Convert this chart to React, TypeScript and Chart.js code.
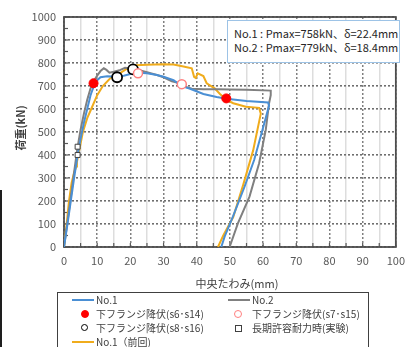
import React, { useEffect, useRef } from "react";
import { Chart, registerables } from "chart.js";
Chart.register(...registerables);

// No.1 (blue)
const no1X = [0, 1, 2, 3, 4, 5, 6, 7, 8, 9, 10, 11, 13, 16, 18, 20, 22.4, 25, 28, 30, 33, 35, 36, 38, 42, 46, 49, 55, 61.5, 61.8, 59.8, 57.3, 54.4, 50.9, 48.4, 47.4];
const no1Y = [0, 95, 195, 295, 390, 470, 540, 600, 660, 700, 725, 738, 742, 740, 745, 752, 758, 755, 748, 740, 725, 705, 697, 688, 665, 652, 645, 635, 628, 615, 509, 378, 262, 132, 45, 0];
// No.2 (gray)
const no2X = [0, 1, 2, 3, 4, 5, 6, 7, 8, 9, 10, 11, 12, 12.8, 13.7, 15, 17, 18.4, 21, 23, 25, 28, 30, 32.5, 35, 37, 38.5, 42, 46.4, 50, 55, 62.3, 62.3, 61.8, 60.8, 58.8, 55.9, 52.4, 49.9];
const no2Y = [0, 105, 210, 320, 425, 510, 580, 640, 690, 722, 745, 765, 777, 770, 758, 762, 770, 779, 775, 768, 760, 748, 738, 720, 712, 695, 688, 686, 686, 685, 684, 680, 660, 625, 509, 364, 219, 103, 0];
// No.1 前回 (orange)
const prevX = [0, 0.4, 0.8, 1.5, 2.3, 3.0, 3.7, 3.9, 4.3, 5, 5.7, 7, 8.2, 10, 11.7, 14, 16.2, 19, 21.6, 25, 30, 33, 36, 38.5, 39.2, 39.7, 40.3, 42, 43, 45.4, 47, 49, 51, 54.8, 58.8, 59.3, 57, 54, 51, 48, 46.4];
const prevY = [0, 50, 100, 200, 280, 320, 350, 370, 400, 450, 500, 560, 600, 660, 700, 735, 750, 775, 790, 792, 795, 793, 785, 777, 740, 735, 755, 743, 712, 690, 665, 640, 625, 610, 605, 580, 420, 270, 130, 50, 0];

// markers
const redX = [8.9, 48.9];
const redY = [712, 646];
const pinkX = [22.3, 35.5];
const pinkY = [755, 708];
const blackX = [16, 20.8];
const blackY = [738, 772];
const sqX = [4.1, 4.1];
const sqY = [400, 436];

const xTicksMax = 100;
const yTicksMax = 1000;

const CJK = '"Noto Sans CJK JP", "Noto Sans", sans-serif';

function pts(xs: number[], ys: number[]) {
  return xs.map((x, i) => ({ x, y: ys[i] }));
}

const isMajorX = (c: any) => !!c.tick && Math.round(c.tick.value) % 10 === 0;

const framePlugin = {
  id: "frame",
  beforeDatasetsDraw(chart: any) {
    const ctx = chart.ctx;
    const ca = chart.chartArea;
    const xs = chart.scales.x;
    const ys = chart.scales.y;
    ctx.save();
    ctx.strokeStyle = "#595959";
    ctx.lineWidth = 1.2;
    for (let v = 0; v <= yTicksMax; v += 50) {
      const py = ys.getPixelForValue(v);
      ctx.beginPath(); ctx.moveTo(ca.left, py); ctx.lineTo(ca.left + 4, py); ctx.stroke();
    }
    for (let v = 0; v <= xTicksMax; v += 5) {
      const px = xs.getPixelForValue(v);
      ctx.beginPath(); ctx.moveTo(px, ca.bottom); ctx.lineTo(px, ca.bottom - 4); ctx.stroke();
    }
    ctx.lineWidth = 1.8;
    ctx.strokeStyle = "#4d4d4d";
    ctx.strokeRect(ca.left, ca.top, ca.right - ca.left, ca.bottom - ca.top);
    ctx.restore();
  },
};

export default function App() {
  const ref = useRef<HTMLCanvasElement>(null);
  useEffect(() => {
    const chart = new Chart(ref.current as HTMLCanvasElement, {
      type: "scatter",
      data: {
        datasets: [
          { label: "red", data: pts(redX, redY), showLine: false, pointRadius: 4.5, pointBackgroundColor: "#ff0000", pointBorderColor: "#ff0000", pointBorderWidth: 1 },
          { label: "pink", data: pts(pinkX, pinkY), showLine: false, pointRadius: 4.5, pointBackgroundColor: "#ffffff", pointBorderColor: "#ff8080", pointBorderWidth: 1.5 },
          { label: "black", data: pts(blackX, blackY), showLine: false, pointRadius: 5, pointBackgroundColor: "#ffffff", pointBorderColor: "#000000", pointBorderWidth: 1.8 },
          { label: "sq", data: pts(sqX, sqY), showLine: false, pointStyle: "rect", pointRadius: 3.5, pointBackgroundColor: "#ffffff", pointBorderColor: "#404040", pointBorderWidth: 1 },
          { label: "No.1", data: pts(no1X, no1Y), showLine: true, pointRadius: 0, borderColor: "#4a8fd4", borderWidth: 2, tension: 0 },
          { label: "No.2", data: pts(no2X, no2Y), showLine: true, pointRadius: 0, borderColor: "#808080", borderWidth: 2, tension: 0 },
          { label: "No.1（前回)", data: pts(prevX, prevY), showLine: true, pointRadius: 0, borderColor: "#f0ac1c", borderWidth: 2, tension: 0 },
        ],
      },
      options: {
        animation: false,
        responsive: false,
        maintainAspectRatio: false,
        events: [],
        layout: { padding: { top: 17, right: 12, left: 0, bottom: 0 } },
        plugins: { legend: { display: false }, tooltip: { enabled: false } },
        scales: {
          x: {
            type: "linear",
            min: 0,
            max: xTicksMax,
            afterFit: (s: any) => { s.height = 100; },
            ticks: {
              stepSize: 5,
              autoSkip: false,
              maxRotation: 0,
              padding: 7,
              color: "#595959",
              font: { size: 11, family: CJK },
              callback: (v: any) => (Math.round(Number(v)) % 10 === 0 ? String(v) : ""),
            },
            grid: {
              display: true,
              drawTicks: false,
              color: (c: any) => (isMajorX(c) ? "#808080" : "#dddddd"),
              lineWidth: 1.5,
            },
            border: {
              display: false,
              dash: (c: any) => (isMajorX(c) ? [2, 2] : []),
            },
          },
          y: {
            type: "linear",
            min: 0,
            max: yTicksMax,
            afterFit: (s: any) => { s.width = 64; },
            ticks: {
              stepSize: 100,
              padding: 8,
              color: "#595959",
              font: { size: 11, family: CJK },
              callback: (v: any) => String(v),
            },
            grid: { display: true, drawTicks: false, color: "#6e6e6e", lineWidth: 1.6 },
            border: { display: false, dash: [2, 2] },
          },
        },
      },
      plugins: [framePlugin],
    } as any);
    return () => chart.destroy();
  }, []);

  const txt: React.CSSProperties = { position: "absolute", fontFamily: CJK, fontSize: 11, color: "#404040", whiteSpace: "nowrap", lineHeight: "14px" };
  const leg: React.CSSProperties = { ...txt, fontSize: 10 };
  const lineSym = (left: number, top: number, color: string): React.CSSProperties => ({ position: "absolute", left, top, width: 22, height: 2, background: color });
  const circ = (cx: number, cy: number, r: number, bg: string, bc: string, bw: number): React.CSSProperties => ({
    position: "absolute", left: cx - r, top: cy - r, width: 2 * r - 2 * bw, height: 2 * r - 2 * bw, borderRadius: "50%", background: bg, border: `${bw}px solid ${bc}`,
  });

  return (
    <div style={{ position: "fixed", left: 0, top: 0, width: 412, height: 347, background: "#ffffff", overflow: "hidden" }}>
      <canvas ref={ref} width={412} height={347} style={{ position: "absolute", left: 0, top: 0, width: 412, height: 347 }} />
      <div style={{ position: "absolute", left: 0, top: 190, width: 2, height: 157, background: "#1e1e1e" }} />
      <div style={{ position: "absolute", left: 227, top: 20, width: 171, height: 41, background: "#ffffff", border: "1px solid #9dc3e6" }}>
        <div style={{ ...txt, left: 6, top: 5, color: "#262626" }}>No.1 : Pmax=758kN、δ=22.4mm</div>
        <div style={{ ...txt, left: 6, top: 19, color: "#262626" }}>No.2 : Pmax=779kN、δ=18.4mm</div>
      </div>
      <div style={{ ...txt, left: 20, top: 128, fontWeight: "bold", transform: "translate(-50%, -50%) rotate(-90deg)" }}>荷重(kN)</div>
      <div style={{ ...txt, left: 237, top: 283, transform: "translate(-50%, -50%)" }}>中央たわみ(mm)</div>
      <div style={{ position: "absolute", left: 57, top: 292, width: 310, height: 62, border: "1.5px solid #404040", background: "#ffffff" }} />
      <div style={lineSym(72, 299, "#4a8fd4")} />
      <div style={{ ...leg, left: 96, top: 293 }}>No.1</div>
      <div style={lineSym(228, 299, "#808080")} />
      <div style={{ ...leg, left: 252, top: 293 }}>No.2</div>
      <div style={circ(85, 314, 4, "#ff0000", "#ff0000", 1)} />
      <div style={{ ...leg, left: 96, top: 307 }}>下フランジ降伏(s6･s14)</div>
      <div style={circ(238, 314, 4.5, "#ffffff", "#ff8080", 1.5)} />
      <div style={{ ...leg, left: 252, top: 307 }}>下フランジ降伏(s7･s15)</div>
      <div style={circ(85, 328, 4.5, "#ffffff", "#000000", 1.8)} />
      <div style={{ ...leg, left: 96, top: 321 }}>下フランジ降伏(s8･s16)</div>
      <div style={{ position: "absolute", left: 235, top: 325, width: 5, height: 5, border: "1px solid #404040", background: "#fff" }} />
      <div style={{ ...leg, left: 252, top: 321 }}>長期許容耐力時(実験)</div>
      <div style={lineSym(72, 341, "#f0ac1c")} />
      <div style={{ ...leg, left: 96, top: 335 }}>No.1（前回)</div>
    </div>
  );
}
